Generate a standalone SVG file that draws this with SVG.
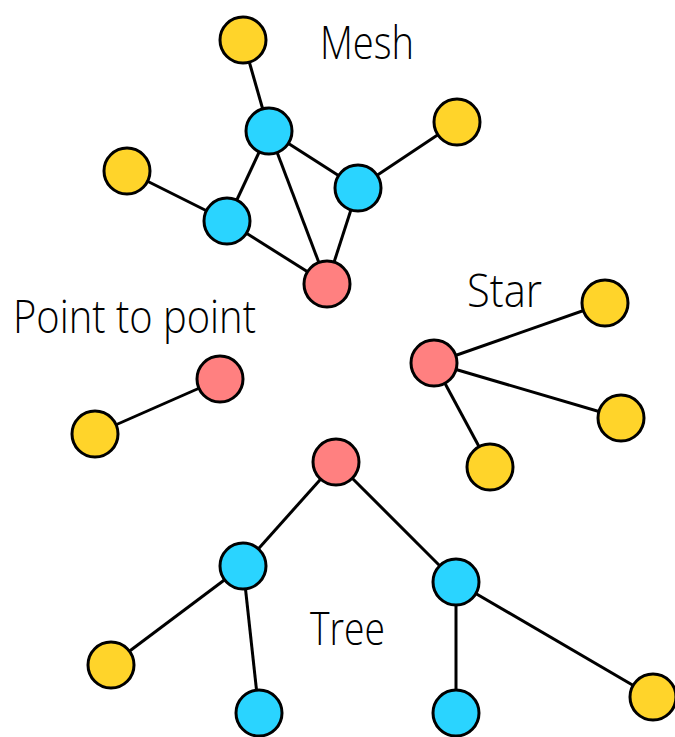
<svg xmlns="http://www.w3.org/2000/svg" width="675" height="737" viewBox="0 0 675 737">
<style>
.n{stroke:#000;stroke-width:3}
.y{fill:#ffd42a}
.b{fill:#2ad4ff}
.r{fill:#ff8080}
.e{stroke:#000;stroke-width:3;fill:none}
.t{font-family:"Open Sans","Liberation Sans",sans-serif;font-weight:300;font-size:46px;fill:#000}
</style>
<rect width="675" height="737" fill="#fff"/>
<g id="connectors" class="e">
<line x1="243" y1="40" x2="269" y2="131"/>
<line x1="269" y1="131" x2="227" y2="221"/>
<line x1="269" y1="131" x2="327" y2="284"/>
<line x1="269" y1="131" x2="358" y2="188"/>
<line x1="127" y1="171" x2="227" y2="221"/>
<line x1="227" y1="221" x2="327" y2="284"/>
<line x1="358" y1="188" x2="327" y2="284"/>
<line x1="358" y1="188" x2="457" y2="122"/>
<line x1="220" y1="379" x2="95" y2="434"/>
<line x1="434" y1="363" x2="605" y2="303"/>
<line x1="434" y1="363" x2="621" y2="418"/>
<line x1="434" y1="363" x2="490" y2="467"/>
<line x1="336" y1="462" x2="243" y2="566"/>
<line x1="336" y1="462" x2="456" y2="582"/>
<line x1="243" y1="566" x2="111" y2="665"/>
<line x1="243" y1="566" x2="259" y2="713"/>
<line x1="456" y1="582" x2="456" y2="713"/>
<line x1="456" y1="582" x2="653" y2="697"/>
</g>
<g id="mesh-y1"><circle class="n y" cx="243" cy="40" r="23"/></g>
<g id="mesh-b1"><circle class="n b" cx="269" cy="131" r="23"/></g>
<g id="mesh-y2"><circle class="n y" cx="127" cy="171" r="23"/></g>
<g id="mesh-b2"><circle class="n b" cx="227" cy="221" r="23"/></g>
<g id="mesh-b3"><circle class="n b" cx="358" cy="188" r="23"/></g>
<g id="mesh-y3"><circle class="n y" cx="457" cy="122" r="23"/></g>
<g id="mesh-r"><circle class="n r" cx="327" cy="284" r="23"/></g>
<g id="p2p-r"><circle class="n r" cx="220" cy="379" r="23"/></g>
<g id="p2p-y"><circle class="n y" cx="95" cy="434" r="23"/></g>
<g id="star-r"><circle class="n r" cx="434" cy="363" r="23"/></g>
<g id="star-y1"><circle class="n y" cx="605" cy="303" r="23"/></g>
<g id="star-y2"><circle class="n y" cx="621" cy="418" r="23"/></g>
<g id="star-y3"><circle class="n y" cx="490" cy="467" r="23"/></g>
<g id="tree-r"><circle class="n r" cx="336" cy="462" r="23"/></g>
<g id="tree-b1"><circle class="n b" cx="243" cy="566" r="23"/></g>
<g id="tree-b2"><circle class="n b" cx="456" cy="582" r="23"/></g>
<g id="tree-y1"><circle class="n y" cx="111" cy="665" r="23"/></g>
<g id="tree-b3"><circle class="n b" cx="259" cy="713" r="23"/></g>
<g id="tree-b4"><circle class="n b" cx="456" cy="713" r="23"/></g>
<g id="tree-y2"><circle class="n y" cx="653" cy="697" r="23"/></g>
<g id="labels">
<text class="t" x="320" y="59" textLength="94" lengthAdjust="spacingAndGlyphs">Mesh</text>
<text class="t" x="13" y="333" textLength="243" lengthAdjust="spacingAndGlyphs">Point to point</text>
<text class="t" x="467" y="307" textLength="75" lengthAdjust="spacingAndGlyphs">Star</text>
<text class="t" x="310" y="645" textLength="75" lengthAdjust="spacingAndGlyphs">Tree</text>
</g>
</svg>
